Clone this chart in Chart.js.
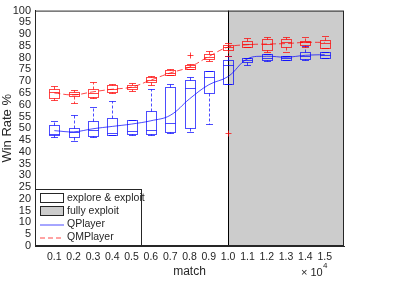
<!DOCTYPE html>
<html><head><meta charset="utf-8">
<script src="https://cdn.jsdelivr.net/npm/chart.js@4.4.1/dist/chart.umd.min.js"></script>
<style>html,body{margin:0;padding:0;background:#fff;}canvas{display:block;}</style>
</head><body>
<canvas id="c" width="398" height="284"></canvas>
<script>
// ---- data ----
const matches = [0.1,0.2,0.3,0.4,0.5,0.6,0.7,0.8,0.9,1.0,1.1,1.2,1.3,1.4,1.5];
const exploitStart = 1.0;
const yTicks = [0,5,10,15,20,25,30,35,40,45,50,55,60,65,70,75,80,85,90,95,100];

const qMin = [46.5,44.8,46.5,47.0,47.0,47.0,48.0,48.6,51.8,68.9,77.1,78.5,78.9,79.2,79.9];
const qQ1  = [47.0,46.4,46.6,47.2,47.5,47.6,48.3,50.0,65.2,68.9,78.2,78.9,78.9,79.6,79.9];
const qMed = [47.5,48.5,49.3,48.2,49.0,49.3,52.3,67.0,72.0,76.9,79.0,80.0,79.9,80.7,81.3];
const qQ3  = [51.5,50.3,53.2,54.5,53.5,57.3,67.5,70.7,74.4,79.2,80.0,81.7,80.6,82.6,82.4];
const qMax = [53.0,55.5,59.0,61.4,53.5,66.7,68.9,71.6,74.4,80.7,80.0,81.7,80.6,85.1,82.4];
const qMean= [49.0,48.5,49.8,50.8,51.8,53.2,55.5,62.5,68.5,72.0,79.5,80.6,80.2,81.0,81.3];

const mMin = [61.9,60.6,62.7,65.0,65.9,68.6,72.5,75.0,78.6,80.7,84.4,82.5,82.6,84.4,84.0];
const mQ1  = [62.8,63.8,63.5,65.3,66.8,69.7,72.7,75.0,79.6,83.1,84.4,83.1,84.4,85.4,84.0];
const mMed = [65.5,64.7,65.2,66.9,67.6,70.7,73.5,76.0,80.5,84.4,85.8,85.8,86.5,86.8,86.2];
const mQ3  = [66.8,65.6,66.8,68.6,68.3,71.6,74.9,77.1,81.7,85.5,87.2,87.9,87.9,87.2,87.6];
const mMax = [67.9,66.1,69.8,69.0,69.3,72.4,75.2,77.3,82.8,86.2,88.2,88.6,88.8,88.6,89.3];
const mMean= [65.0,64.2,65.5,66.6,67.5,70.5,73.5,76.0,80.5,84.5,85.5,85.8,86.0,86.5,86.5];
const mOutX = [0.8,1.0];
const mOutY = [81.0,48.2];

const legendLabels = ['explore & exploit','fully exploit','QPlayer','QMPlayer'];

const BLUE = 'rgba(0,0,255,0.7)';
const RED = 'rgba(255,0,0,0.72)';
const AX = '#262626';
const FONT = 'Liberation Sans, Arial, sans-serif';

function drawBoxes(ctx, x, y, mn, q1, md, q3, mx, color){
  ctx.strokeStyle = color; ctx.lineWidth = 1;
  for (let i=0;i<matches.length;i++){
    const px = Math.round(x.getPixelForValue(matches[i]));
    const hw = 5, cw = 3;
    const yMin = Math.round(y.getPixelForValue(mn[i]))+0.5;
    const yQ1 = Math.round(y.getPixelForValue(q1[i]))+0.5;
    const yMd = Math.round(y.getPixelForValue(md[i]))+0.5;
    const yQ3 = Math.round(y.getPixelForValue(q3[i]))+0.5;
    const yMax = Math.round(y.getPixelForValue(mx[i]))+0.5;
    ctx.setLineDash([3,2]);
    ctx.beginPath();
    ctx.moveTo(px+0.5,yQ3); ctx.lineTo(px+0.5,yMax);
    ctx.moveTo(px+0.5,yQ1); ctx.lineTo(px+0.5,yMin);
    ctx.stroke();
    ctx.setLineDash([]);
    ctx.beginPath();
    ctx.moveTo(px-cw,yMax); ctx.lineTo(px+cw+1,yMax);
    ctx.moveTo(px-cw,yMin); ctx.lineTo(px+cw+1,yMin);
    ctx.stroke();
    ctx.strokeRect(px-hw+0.5, yQ3, 2*hw, yQ1-yQ3);
    ctx.beginPath();
    ctx.moveTo(px-hw+0.5,yMd); ctx.lineTo(px+hw+0.5,yMd);
    ctx.stroke();
  }
}

const boxPlugin = {
  id:'boxes',
  beforeDatasetsDraw(chart){
    const {ctx, chartArea:a, scales:{x,y}} = chart;
    ctx.save();
    const gx = Math.round(x.getPixelForValue(exploitStart));
    ctx.fillStyle = '#cccccc';
    ctx.fillRect(gx, a.top, a.right-gx, a.bottom-a.top);
    ctx.strokeStyle = '#000'; ctx.lineWidth = 1;
    ctx.beginPath(); ctx.moveTo(gx+0.5,a.top); ctx.lineTo(gx+0.5,a.bottom); ctx.stroke();
    drawBoxes(ctx,x,y,qMin,qQ1,qMed,qQ3,qMax,BLUE);
    drawBoxes(ctx,x,y,mMin,mQ1,mMed,mQ3,mMax,RED);
    ctx.strokeStyle = RED;
    for (let i=0;i<mOutX.length;i++){
      const px = Math.round(x.getPixelForValue(mOutX[i]))+0.5;
      const py = Math.round(y.getPixelForValue(mOutY[i]))+0.5;
      ctx.beginPath();
      ctx.moveTo(px-3,py); ctx.lineTo(px+3,py);
      ctx.moveTo(px,py-3); ctx.lineTo(px,py+3);
      ctx.stroke();
    }
    ctx.restore();
  },
  afterDraw(chart){
    const {ctx, chartArea:a} = chart;
    ctx.save();
    ctx.strokeStyle = AX; ctx.lineWidth = 1;
    ctx.strokeRect(a.left+0.5, a.top+0.5, a.right-a.left-1, a.bottom-a.top-1);
    const lx = a.left+0.5, ly = 189.5, lw = 106, lh = 56;
    ctx.fillStyle = '#fff';
    ctx.fillRect(lx, ly, lw, lh);
    ctx.strokeRect(lx, ly, lw, lh);
    ctx.font = '10.5px ' + FONT;
    ctx.textBaseline = 'middle';
    const rows = [198, 211, 224.5, 237.5];
    ctx.fillStyle = '#fff'; ctx.strokeStyle = AX;
    ctx.fillRect(40.5, rows[0]-4.5, 23, 9); ctx.strokeRect(40.5, rows[0]-4.5, 23, 9);
    ctx.fillStyle = '#cccccc';
    ctx.fillRect(40.5, rows[1]-4.5, 23, 9); ctx.strokeRect(40.5, rows[1]-4.5, 23, 9);
    ctx.strokeStyle = BLUE;
    ctx.beginPath(); ctx.moveTo(40, rows[2]+0.5); ctx.lineTo(64, rows[2]+0.5); ctx.stroke();
    ctx.strokeStyle = RED; ctx.setLineDash([5,3]);
    ctx.beginPath(); ctx.moveTo(40, rows[3]+0.5); ctx.lineTo(64, rows[3]+0.5); ctx.stroke();
    ctx.setLineDash([]);
    ctx.fillStyle = AX;
    for (let i=0;i<legendLabels.length;i++) ctx.fillText(legendLabels[i], 67, rows[i]);
    ctx.font = '11px ' + FONT;
    ctx.fillText('\u00d7 10', 301, 273);
    ctx.font = '8px ' + FONT;
    ctx.fillText('4', 323, 266);
    ctx.restore();
  }
};

new Chart(document.getElementById('c'), {
  type:'line',
  data:{
    datasets:[
      {label:'QPlayer', data: matches.map((m,i)=>({x:m,y:qMean[i]})), borderColor:BLUE, borderWidth:1, pointRadius:0, tension:0.4, fill:false},
      {label:'QMPlayer', data: matches.map((m,i)=>({x:m,y:mMean[i]})), borderColor:RED, borderWidth:1, borderDash:[6,3], pointRadius:0, tension:0.4, fill:false}
    ]
  },
  options:{
    responsive:false, animation:false,
    layout:{padding:{left:0,right:54,top:3,bottom:0}},
    plugins:{legend:{display:false}, tooltip:{enabled:false}},
    scales:{
      x:{type:'linear', min:0, max:1.6,
        afterBuildTicks(s){ s.ticks = matches.map(v=>({value:v})); },
        afterFit(s){ s.height = 38; },
        grid:{display:false, drawTicks:false},
        border:{display:true, color:AX},
        ticks:{color:AX, font:{family:FONT,size:10.5}, padding:5, maxRotation:0, autoSkip:false,
          callback:(v)=>Number(v).toFixed(1)},
        title:{display:true, text:'match', color:AX, font:{family:FONT,size:12}, padding:{top:0,bottom:5}}
      },
      y:{min:0, max:100,
        afterBuildTicks(s){ s.ticks = yTicks.map(v=>({value:v})); },
        afterFit(s){ s.width = 35; },
        grid:{display:false, drawTicks:false},
        border:{display:true, color:AX},
        ticks:{color:AX, font:{family:FONT,size:11}, padding:4, autoSkip:false},
        title:{display:true, text:'Win Rate %', color:AX, font:{family:FONT,size:13, lineHeight:1}, padding:{top:1,bottom:0}}
      }
    }
  },
  plugins:[boxPlugin]
});
</script>
</body></html>
